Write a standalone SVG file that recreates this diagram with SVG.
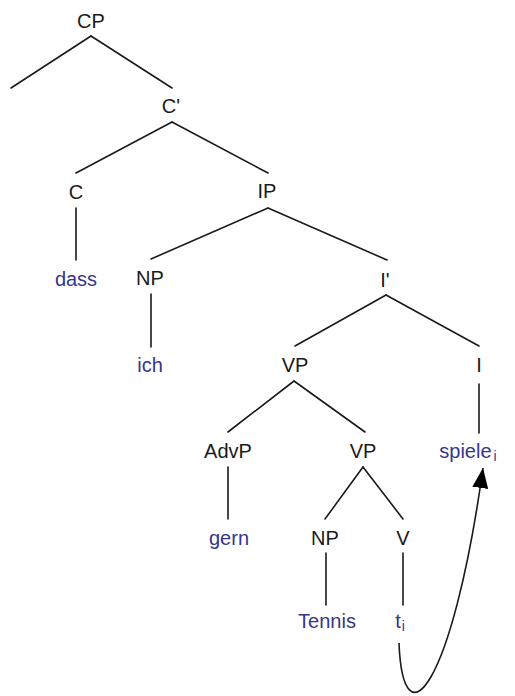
<svg xmlns="http://www.w3.org/2000/svg" width="515" height="696" viewBox="0 0 515 696">
  <style>
    .cat { font-family: "Liberation Sans", Arial, sans-serif; font-size: 20px; fill: #1a1a1a; text-anchor: middle; }
    .word { font-family: "Liberation Sans", Arial, sans-serif; font-size: 20px; fill: #36368c; text-anchor: middle; }
    .sub { font-size: 14px; }
    .edge { stroke: #1a1a1a; stroke-width: 1.6; fill: none; stroke-linecap: round; }
    .move { stroke: #1a1a1a; stroke-width: 1.6; fill: none; }
  </style>
  <defs>
    <marker id="arrow" markerUnits="userSpaceOnUse" markerWidth="22" markerHeight="18" refX="20" refY="8" orient="auto">
      <path d="M0,0 L20,8 L0,16 Z" fill="#000"/>
    </marker>
  </defs>
  <rect width="515" height="696" fill="#fff"/>

  <!-- tree edges -->
  <g id="edges">
    <line class="edge" x1="91" y1="36" x2="11" y2="88"/>
    <line class="edge" x1="91" y1="36" x2="172" y2="88"/>
    <line class="edge" x1="172" y1="122" x2="76" y2="173"/>
    <line class="edge" x1="172" y1="122" x2="268" y2="173"/>
    <line class="edge" x1="76" y1="208" x2="76" y2="260"/>
    <line class="edge" x1="268" y1="208" x2="151" y2="259"/>
    <line class="edge" x1="268" y1="208" x2="387" y2="260"/>
    <line class="edge" x1="151" y1="294" x2="151" y2="347"/>
    <line class="edge" x1="386" y1="295" x2="295" y2="346"/>
    <line class="edge" x1="386" y1="295" x2="479" y2="346"/>
    <line class="edge" x1="479" y1="384" x2="479" y2="433"/>
    <line class="edge" x1="294" y1="381" x2="228" y2="432"/>
    <line class="edge" x1="294" y1="381" x2="365" y2="432"/>
    <line class="edge" x1="228" y1="467" x2="228" y2="519"/>
    <line class="edge" x1="363" y1="467" x2="325" y2="519"/>
    <line class="edge" x1="363" y1="467" x2="403" y2="519"/>
    <line class="edge" x1="326" y1="553" x2="326" y2="605"/>
    <line class="edge" x1="403" y1="553" x2="403" y2="605"/>
    <!-- head movement: trace to inflected verb -->
    <path class="move" d="M399,643 C403,745 452,690 483,468" marker-end="url(#arrow)"/>
  </g>

  <g id="cp"><text class="cat" x="91" y="28">CP</text></g>
  <g id="cbar"><text class="cat" x="171" y="113">C'</text></g>
  <g id="c"><text class="cat" x="76" y="199">C</text></g>
  <g id="dass"><text class="word" x="76" y="286">dass</text></g>
  <g id="ip"><text class="cat" x="267" y="198">IP</text></g>
  <g id="np-subj"><text class="cat" x="150" y="285">NP</text></g>
  <g id="ich"><text class="word" x="150" y="372">ich</text></g>
  <g id="ibar"><text class="cat" x="385" y="287">I'</text></g>
  <g id="vp-upper"><text class="cat" x="295" y="372">VP</text></g>
  <g id="i"><text class="cat" x="479" y="372">I</text></g>
  <g id="spiele"><text class="word" x="468" y="458">spiele<tspan class="sub" dx="2" dy="3">i</tspan></text></g>
  <g id="advp"><text class="cat" x="228" y="458">AdvP</text></g>
  <g id="vp-lower"><text class="cat" x="363" y="458">VP</text></g>
  <g id="gern"><text class="word" x="229" y="545">gern</text></g>
  <g id="np-obj"><text class="cat" x="325" y="545">NP</text></g>
  <g id="v"><text class="cat" x="403" y="545">V</text></g>
  <g id="tennis"><text class="word" x="327" y="628">Tennis</text></g>
  <g id="trace"><text class="word" x="400" y="628">t<tspan class="sub" dx="1" dy="3">i</tspan></text></g>
</svg>
